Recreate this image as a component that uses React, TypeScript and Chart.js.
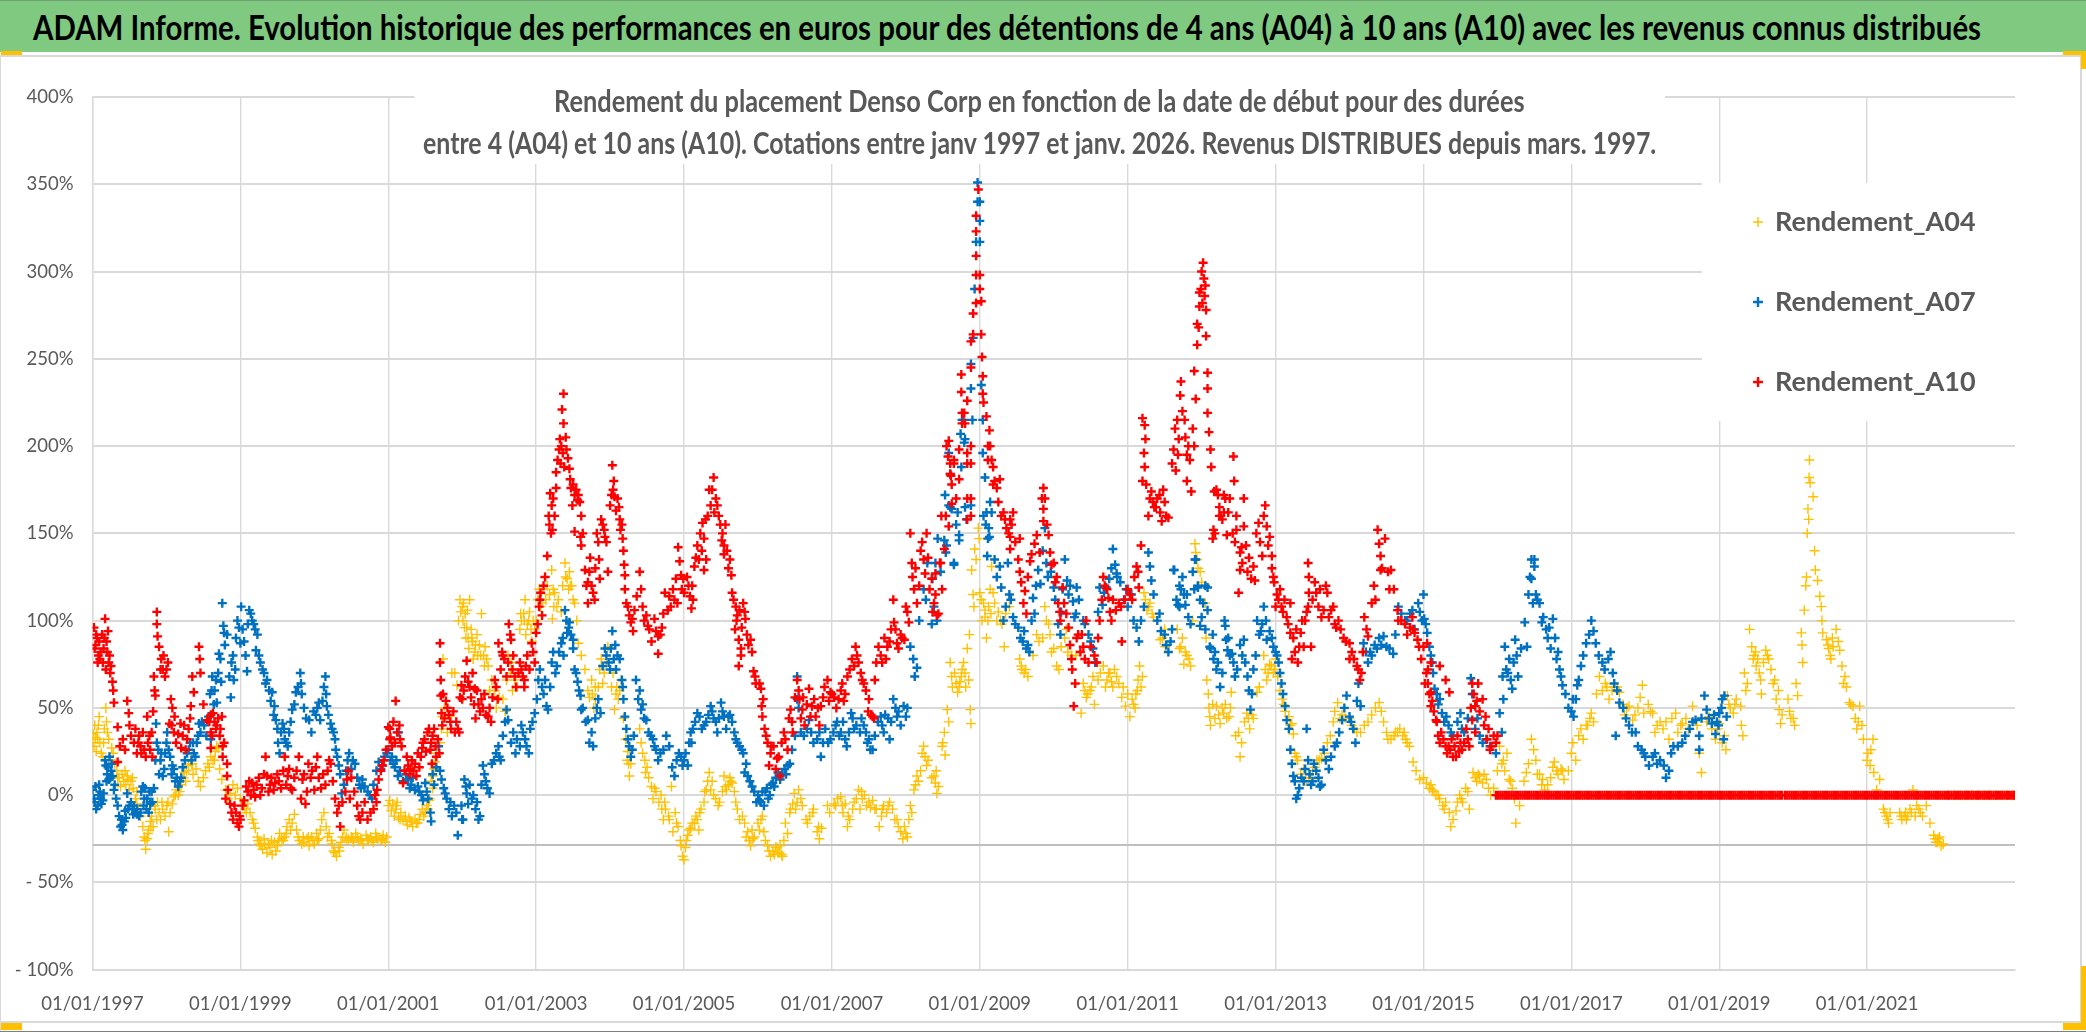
import React, { useEffect, useLayoutEffect, useRef } from "react";
import { Chart, registerables } from "chart.js";

Chart.register(...registerables);

const FONT = 'Lato, "Noto Sans", sans-serif';

const headerText = "ADAM Informe. Evolution historique des performances en euros pour des détentions de 4 ans (A04) à 10 ans (A10) avec les revenus connus distribués";
const subtitleLine1 = "Rendement du placement Denso Corp en fonction de la date de début pour des durées";
const subtitleLine2 = "entre 4 (A04) et 10 ans (A10). Cotations entre janv 1997 et janv. 2026. Revenus DISTRIBUES depuis mars. 1997.";

const firstYear = 1997;
const axisLineValue = -28.5;

// Flat lists: years since 01/01/1997, return in %, years since 01/01/1997, return in %, ...
const rendementA04 = [
0,30,.01,35,.02,28,.03,40,.04,33,.05,25,.06,36,.07,32,.09,45,.1,30,.12,24,.14,22,.16,38,.18,50,.2,36,.22,32,.24,20,.26,27,.3,18,.33,14,.36,10,.38,5,.4,12,.42,8,.45,6,.47,11,.5,3,.52,8,.55,4,.58,-2,.6,-5,.62,-8,.65,-12,.68,-18,.7,-24,.72,-31,.74,-25,.76,-20,.78,-15,.8,-12,.82,-18,.85,-8,.88,-4,.9,-10,.92,-14,.95,-8,.98,-12,
1,-6,1.03,-21,1.05,-10,1.08,-5,1.1,-1,1.13,3,1.16,0,1.2,6,1.23,10,1.27,14,1.3,17,1.33,20,1.36,12,1.4,15,1.43,8,1.46,5,1.5,10,1.53,14,1.56,18,1.6,22,1.63,20,1.66,25,1.7,27,1.72,15,1.75,9,1.8,3,1.83,-2,1.86,1,1.9,6,1.93,0,1.96,4,
2,-2,2.03,-6,2.06,-8,2.1,-5,2.13,-10,2.16,-14,2.2,-19,2.23,-24,2.26,-28,2.3,-31,2.33,-28,2.36,-33,2.4,-30,2.43,-34,2.46,-27,2.5,-29,2.53,-22,2.56,-25,2.6,-24,2.63,-18,2.66,-14,2.7,-16,2.73,-11,2.76,-20,2.8,-26,2.83,-28,2.86,-27,2.9,-25,2.93,-29,2.96,-24,
3,-28,3.03,-22,3.06,-25,3.1,-14,3.13,-10,3.16,-18,3.2,-22,3.23,-26,3.26,-32,3.3,-35,3.33,-30,3.36,-27,3.4,-20,3.43,-24,3.46,-25,3.5,-24,3.53,-27,3.56,-22,3.6,-26,3.63,-25,3.66,-28,3.7,-23,3.73,-26,3.76,-24,3.8,-27,3.83,-22,3.86,-25,3.9,-26,3.93,-23,3.96,-27,
4,-6,4.02,-3,4.04,-9,4.06,-5,4.08,-12,4.1,-8,4.12,-4,4.14,-13,4.17,-10,4.2,-14,4.23,-12,4.26,-17,4.3,-15,4.33,-18,4.36,-14,4.4,-16,4.43,-11,4.46,-8,4.5,-10,4.52,-6,4.55,-3,4.58,8,4.6,11,4.62,15,4.63,19,4.65,24,4.7,30,4.72,38,4.73,45,4.74,78,4.76,50,4.8,36,4.83,45,4.86,70,4.9,70,4.93,63,4.95,100,4.97,112,4.98,105,
5,108,5.01,100,5.02,110,5.04,104,5.06,96,5.08,90,5.1,112,5.12,95,5.14,88,5.17,82,5.2,92,5.23,86,5.26,104,5.29,80,5.31,85,5.33,78,5.35,74,5.37,60,5.4,66,5.44,60,5.46,50,5.5,56,5.55,55,5.58,48,5.62,80,5.65,70,5.68,60,5.71,66,5.74,62,5.78,95,5.8,100,5.83,104,5.85,112,5.88,98,5.91,105,5.94,88,5.96,100,5.98,95,
6.02,112,6.06,108,6.09,118,6.12,125,6.15,120,6.21,129,6.23,118,6.25,116,6.28,108,6.3,112,6.22,101,6.34,105,6.39,133,6.42,124,6.45,128,6.48,120,6.5,112,6.52,110,6.55,100,6.57,87,6.61,80,6.66,72,6.7,60,6.75,66,6.78,50,6.8,55,6.84,62,6.88,78,6.92,70,6.97,85,
7.04,70,7.06,49,7.09,62,7.11,55,7.15,66,7.18,44,7.21,32,7.24,25,7.26,11,7.28,18,7.4,38,7.42,30,7.47,20,7.48,13,7.5,16,7.56,5,7.58,-2,7.62,2,7.66,-4,7.69,0,7.72,-14,7.75,-8,7.79,-12,7.83,5,7.85,-21,7.88,-10,7.92,-18,7.96,-29,7.98,-35,
8,-37,8.02,-30,8.05,-23,8.09,-19,8.14,-16,8.18,-14,8.2,-20,8.23,-8,8.27,-4,8.3,3,8.34,13,8.36,3,8.38,8,8.43,-2,8.46,-6,8.54,11,8.57,3,8.6,6,8.63,8,8.65,7,8.7,-4,8.72,-8,8.79,-12,8.82,-16,8.86,-21,8.9,-29,8.93,-25,8.95,-24,
9.02,-20,9.06,-12,9.08,-21,9.13,-29,9.17,-35,9.2,-32,9.24,-30,9.27,-33,9.3,-29,9.33,-35,9.37,-16,9.4,-22,9.44,-8,9.49,1,9.51,-8,9.53,-4,9.55,3,9.6,-6,9.67,-16,9.7,-12,9.74,-10,9.8,-21,9.83,-25,9.86,-19,9.94,-6,9.97,-10,
10.03,-5,10.08,-2,10.12,-1,10.15,-10,10.18,-5,10.21,-18,10.24,-14,10.3,-4,10.36,3,10.38,-8,10.41,-2,10.44,0,10.52,-7,10.55,-3,10.6,-8,10.64,-18,10.67,-12,10.7,-6,10.74,-10,10.78,-4,10.82,-8,10.88,-14,10.93,-21,10.96,-25,10.98,-18,
11,-22,11.02,-24,11.06,-6,11.08,-10,11.11,3,11.15,11,11.17,8,11.24,28,11.26,22,11.28,17,11.38,11,11.4,7,11.41,14,11.42,1,11.44,5,11.49,28,11.52,36,11.53,23,11.56,49,11.58,42,11.6,76,11.63,62,11.66,70,11.7,59,11.73,65,11.76,72,11.78,76,11.81,62,11.83,84,11.85,66,11.86,92,11.87,49,11.88,41,11.89,129,11.91,115,11.92,108,11.93,141,11.95,135,11.98,153,11.99,147,
12,116,12.03,100,12.05,110,12.07,102,12.09,90,12.12,108,12.15,104,12.16,131,12.18,116,12.25,105,12.3,98,12.33,85,12.36,108,12.4,108,12.54,78,12.57,72,12.6,70,12.65,68,12.77,92,12.8,88,12.88,108,12.9,100,12.95,92,12.97,82,
13.04,74,13.1,85,13.17,95,13.19,82,13.3,80,13.37,47,13.4,64,13.44,56,13.49,60,13.53,68,13.55,52,13.67,74,13.7,62,13.74,70,13.78,65,13.82,72,13.85,68,13.94,62,13.97,51,14,58,14.03,45,
14.06,55,14.1,50,14.13,60,14.16,74,14.18,62,14.2,68,14.22,116,14.26,106,14.3,110,14.35,102,14.44,89,14.5,95,14.51,85,14.67,95,14.7,84,14.74,90,14.76,75,14.8,80,14.85,74,14.91,144,14.92,139,14.94,135,14.98,128,
15.05,110,15.06,90,15.07,66,15.09,58,15.1,50,15.11,45,15.12,40,15.2,51,15.25,41,15.3,47,15.34,44,15.39,50,15.4,59,15.5,36,15.52,22,15.54,30,15.61,47,15.65,38,15.7,44,15.75,59,15.84,80,15.88,66,15.92,75,15.97,70,15.99,72,
16,78,16.06,60,16.09,55,16.13,48,16.18,45,16.22,41,16.24,35,16.26,24,16.3,20,16.38,15,16.45,10,16.5,14,16.56,20,16.62,21,16.7,30,16.78,42,16.84,53,16.9,46,17,44,17.07,38,17.15,36,17.25,42,17.35,50,17.4,53,17.46,42,17.5,36,17.56,32,17.62,36,17.68,38,17.72,34,17.76,32,17.81,28,
17.86,19,17.9,14,17.95,9,18,10,18.04,7,18.08,4,18.12,3,18.17,0,18.22,-2,18.26,-6,18.3,-4,18.35,-10,18.37,-18,18.44,-9,18.49,0,18.53,-4,18.57,4,18.62,-8,18.67,13,18.72,8,18.76,11,18.8,7,18.85,9,18.91,0,
19.03,28,19.06,18,19.1,14,19.13,24,19.16,9,19.2,4,19.23,-2,19.25,-16,19.3,-6,19.39,13,19.46,32,19.49,26,19.52,20,19.57,12,19.61,9,19.64,3,19.72,10,19.77,19,19.82,12,19.86,15,19.9,9,19.96,14,
20.02,30,20.06,20,20.13,38,20.16,32,20.22,40,20.27,47,20.3,42,20.38,68,20.42,60,20.46,64,20.51,55,20.58,62,20.65,59,20.72,46,20.78,51,20.83,43,20.9,50,20.96,63,20.98,47,21.04,52,21.1,47,21.13,36,21.2,42,21.28,42,21.32,32,21.41,47,21.44,36,21.5,41,21.58,38,21.64,51,21.73,24,21.76,13,21.86,45,21.9,38,21.95,32,
22,41,22.04,30,22.09,26,22.11,57,22.15,50,22.19,47,22.23,55,22.29,51,22.3,40,22.32,34,22.34,70,22.36,60,22.41,95,22.44,85,22.47,80,22.5,74,22.52,78,22.54,70,22.57,58,22.6,76,22.63,83,22.67,78,22.7,72,22.75,66,22.77,55,22.8,60,22.81,49,22.83,41,22.93,55,22.97,44,23.02,40,23.04,64,23.06,57,23.11,93,23.12,86,23.13,76,23.15,106,23.18,125,23.17,120,23.19,150,23.2,164,23.21,158,23.215,182,23.23,179,23.22,192,23.27,171,23.29,140,23.3,129,23.33,123,23.36,114,23.38,108,23.39,100,23.4,93,23.45,89,23.48,84,23.51,78,23.54,85,23.58,95,23.63,83,23.66,74,23.68,64,23.72,62,23.76,53,23.81,51,23.84,44,23.86,38,23.9,51,23.93,40,23.95,32,
24.01,24,24.04,17,24.08,32,24.09,13,24.13,3,24.17,9,24.22,-8,24.26,-12,24.29,-16,24.31,-10,24.44,-10,24.47,-14,24.5,-12,24.53,-14,24.58,-8,24.62,3,24.65,-12,24.67,-6,24.72,-10,24.8,-6,24.85,-16,24.9,-23,24.93,-27,24.96,-25,25,-29,25.03,-28,
25.1,0,25.18,0,25.26,0,25.34,0,25.42,0,25.5,0,25.58,0,25.66,0,25.74,0,25.82,0,25.9,0,25.97,0,
];

const rendementA04Cloud = [
1.24,13,1.35,18,1.58,16,1.65,20,1.68,28,.08,40,.15,30,.19,42,.28,24,.34,10,.44,14,.48,9,.54,10,.6,2,.71,-26,.75,-22,.79,-18,.84,-6,.87,-14,.94,-4,1.02,-4,1.12,0,1.18,2,1.26,8,1.34,18,
2.08,-10,2.18,-16,2.24,-26,2.28,-29,2.32,-25,2.38,-28,2.42,-26,2.48,-32,2.52,-26,2.58,-26,2.62,-22,2.68,-20,2.78,-24,2.85,-24,2.92,-24,2.98,-26,3.04,-26,3.08,-20,3.18,-24,3.24,-28,3.28,-33,3.34,-32,3.38,-24,3.44,-26,3.52,-25,3.58,-24,3.64,-26,3.72,-25,3.78,-26,3.84,-24,3.92,-25,3.98,-24,
4.11,-6,4.16,-14,4.24,-15,4.28,-13,4.32,-15,4.38,-16,4.42,-14,4.48,-12,4.54,-8,4.56,-2,4.6,4,5.03,96,5.05,90,5.07,106,5.09,84,5.13,90,5.15,78,5.18,86,5.21,80,5.25,80,5.3,74,5.6,66,5.66,76,5.79,104,5.84,100,5.86,92,5.9,100,5.93,95,6,100,6.04,118,6.08,110,6.13,112,6.18,115,6.24,108,6.36,120,6.4,125,6.44,118,6.46,120,6.72,56,6.76,58,6.8,62,6.86,72,6.9,64,6.95,76,7.02,62,7.08,58,7.13,60,7.23,20,7.25,18,7.44,24,7.52,10,7.6,4,7.7,-8,7.74,-4,7.8,-14,7.9,-16,7.95,-26,
8.03,-26,8.07,-20,8.11,-16,8.16,-12,8.21,-10,8.28,2,8.32,8,8.4,0,8.48,-4,8.52,2,8.56,5,8.62,10,8.68,2,8.75,-14,8.84,-24,8.88,-26,8.92,-20,9,-16,9.04,-14,9.1,-26,9.15,-32,9.22,-34,9.26,-30,9.29,-33,9.32,-34,9.35,-26,9.43,-10,9.47,-5,9.58,-2,9.65,-14,9.75,-8,9.82,-18,10.05,-6,10.14,-6,10.22,-12,10.28,-8,10.33,-2,10.4,2,10.47,-6,10.5,-4,10.58,-8,10.68,-8,10.76,-6,10.85,-14,10.9,-18,11.04,-14,11.13,6,11.2,14,11.22,24,11.3,20,11.35,10,11.5,30,11.62,68,11.68,64,11.72,62,11.75,68,11.8,70,
12.02,112,12.07,106,12.11,100,12.14,118,12.2,110,12.23,100,12.28,100,12.35,104,12.56,74,12.62,72,12.72,80,12.85,90,12.93,98,13,84,13.07,72,13.15,90,13.24,80,13.42,60,13.46,58,13.51,62,13.6,66,13.63,70,13.72,66,13.76,70,13.8,62,13.88,64,13.92,56,14.08,52,14.11,58,14.14,66,14.24,112,14.28,108,14.33,104,14.47,90,14.72,85,14.78,82,14.83,78,14.88,100,14.95,130,15,122,15.15,52,15.18,44,15.23,46,15.28,50,15.32,52,15.37,45,15.46,34,15.58,42,15.63,44,15.68,46,15.78,62,15.86,72,15.9,70,15.94,74,
16.03,68,16.11,52,16.2,40,16.28,22,16.34,12,16.41,8,16.48,10,16.53,16,16.59,20,16.66,24,16.74,34,16.8,48,16.87,44,16.94,44,17.03,40,17.1,36,17.2,40,17.3,46,17.43,48,17.52,32,17.6,34,17.65,36,17.74,36,17.78,30,18.1,6,18.14,2,18.2,0,18.28,-8,18.4,-14,18.46,-4,18.51,-2,18.6,2,18.7,10,18.74,12,18.82,12,18.88,4,18.95,4,19,14,19.08,20,19.18,8,19.36,8,19.42,18,19.54,12,19.6,6,19.68,6,19.75,16,19.8,14,19.88,14,20,24,20.1,34,20.2,40,20.25,44,20.34,58,20.48,62,20.55,60,20.62,62,20.7,52,20.75,50,20.86,46,20.93,56,21.07,48,21.16,40,21.24,38,21.36,44,21.48,40,21.55,44,21.7,40,21.83,42,21.98,38,22.07,34,22.13,52,22.21,52,22.38,64,22.46,78,22.49,82,22.56,66,22.65,80,22.73,64,22.85,46,22.95,48,23,44,23.47,86,23.5,80,23.53,90,23.61,88,23.7,68,23.78,52,23.88,42,24,20,24.05,26,24.24,-10,24.28,-14,24.46,-12,24.52,-10,24.55,-12,24.6,-10,24.7,-8,24.75,-12,24.92,-25,24.95,-27,24.98,-24,
];

const rendementA07 = [
0,3,.03,-4,.05,-8,.08,0,.1,2,.12,-5,.14,-3,.18,17,.2,12,.22,9,.23,22,.25,14,.27,11,.29,3,.34,-6,.36,-12,.38,-18,.41,-20,.43,-15,.45,-13,.47,1,.5,-6,.54,-8,.58,-10,.6,-11,.63,-12,.68,5,.7,-2,.73,-8,.76,-10,.8,2,.83,4,.86,41,.87,30,.92,20,.95,11,.97,15,1.01,36,1.03,26,1.08,17,1.12,8,1.16,5,1.2,10,1.3,26,1.34,20,1.37,24,1.41,30,1.44,41,1.46,36,1.57,45,1.6,32,1.62,68,1.65,60,1.68,53,1.71,81,1.74,65,1.755,110,1.77,97,1.78,93,1.85,68,1.87,56,1.9,80,1.93,72,1.96,100,
2,87,2.01,108,2.07,80,2.09,71,2.12,106,2.16,100,2.2,95,2.21,83,2.25,80,2.3,72,2.34,64,2.39,60,2.43,59,2.46,51,2.48,43,2.5,38,2.53,24,2.57,41,2.6,32,2.64,28,2.7,49,2.75,59,2.81,70,2.82,64,2.93,43,2.96,36,
3.06,53,3.08,43,3.15,68,3.16,58,3.17,51,3.22,41,3.26,36,3.29,26,3.33,17,3.37,1,3.47,24,3.5,15,3.65,9,3.72,2,3.78,-2,3.87,19,3.9,15,4,26,4.03,20,
4.05,22,4.09,16,4.13,11,4.14,36,4.27,9,4.31,6,4.36,3,4.45,0,4.5,7,4.54,-2,4.57,-10,4.58,-15,4.68,28,4.72,9,4.77,1,4.82,-8,4.86,-12,4.92,-10,4.94,-23,5.01,-14,5.03,9,5.06,1,5.13,-2,5.18,-8,5.22,-14,5.28,17,5.32,8,5.37,1,5.49,28,5.52,20,5.55,34,5.6,49,5.62,43,5.69,36,5.72,24,5.8,40,5.85,32,5.9,24,
5.98,47,6.05,72,6.08,62,6.14,51,6.16,49,6.23,82,6.26,70,6.34,87,6.37,80,6.39,106,6.42,93,6.45,99,6.5,89,6.5,84,6.52,72,6.56,65,6.6,57,6.61,49,6.7,43,6.75,36,6.77,28,6.84,55,6.87,47,6.93,84,7,72,7.03,94,7.05,78,7.1,80,
7.17,62,7.18,55,7.2,45,7.24,32,7.28,22,7.35,66,7.38,55,7.42,49,7.49,43,7.58,32,7.65,20,7.76,34,7.8,28,7.87,11,7.96,22,7.98,17,
8.02,24,8.05,17,8.09,36,8.1,30,8.18,47,8.24,38,8.3,42,8.36,51,8.4,44,8.45,36,8.5,53,8.54,45,8.6,45,8.65,42,8.68,36,8.72,30,8.8,24,8.82,13,8.86,11,8.92,5,9,0,9.04,-4,9.08,-6,9.1,2,9.14,-2,9.2,7,9.22,5,9.27,13,9.3,9,9.36,15,9.4,17,9.46,26,9.53,55,9.53,68,9.62,34,9.69,43,9.8,32,9.85,22,9.91,38,9.95,30,
10.07,42,10.1,34,10.2,28,10.26,47,10.3,38,10.43,40,10.5,32,10.52,26,10.66,45,10.7,36,10.78,32,10.83,55,10.88,45,10.97,51,11,45,
11.06,85,11.1,78,11.12,68,11.15,73,11.18,100,11.24,118,11.27,112,11.29,133,11.36,124,11.38,108,11.42,100,11.47,128,11.52,146,11.54,139,11.6,184,11.6,165,11.65,132,11.7,162,11.72,146,11.74,207,11.76,215,11.79,202,11.8,165,11.82,158,
11.4,133,11.35,98,11.43,147,11.55,143,11.65,133,11.53,172,11.58,166,11.62,164,11.68,155,11.72,149,11.58,196,11.75,188,11.78,215,11.8,204,11.88,247,11.88,233,11.88,166,11.9,215,11.91,262,11.93,290,11.95,317,11.97,351,11.97,340,12,340,12,329,12,317,12.02,235,12.04,215,12.04,196,12.07,182,12.09,162,12.12,153,12.16,162,12.11,147,12.1,137,
12.27,131,12.29,119,12.32,100,12.38,133,12.4,115,12.45,102,12.52,96,12.58,88,12.63,84,12.67,82,12.72,113,12.74,104,12.79,129,12.82,121,12.88,153,12.9,133,13,119,13.06,98,13.09,92,13.15,135,13.18,123,13.26,111,13.3,104,13.31,119,13.4,100,13.47,92,13.53,84,13.56,76,13.62,119,13.66,109,13.71,119,13.8,141,13.85,127,13.86,125,13.95,112,14.05,115,14.12,96,14.15,88,14.28,139,14.3,131,14.32,123,14.35,115,14.43,104,14.5,92,14.55,82,14.6,95,14.63,129,14.68,109,14.7,120,14.74,125,14.78,109,14.85,98,14.92,135,14.95,119,15,102,15.05,95,15.08,119,15.12,84,
14.62,129,14.7,108,14.8,115,14.91,135,14.95,120,14.98,97,15.05,120,15.08,106,15.11,85,15.16,78,15.2,72,15.25,62,15.31,100,15.32,97,15.33,89,15.35,83,15.41,81,15.45,68,15.57,89,15.59,76,15.64,60,15.66,49,15.7,72,15.75,100,15.8,94,15.84,108,15.88,89,15.92,94,15.97,85,16.04,76,16.08,64,16.13,51,16.15,43,16.18,38,16.2,26,16.24,11,16.28,-2,16.32,4,16.38,8,16.42,38,16.44,20,16.48,6,16.55,14,16.6,5,16.65,26,16.72,15,16.83,30,16.9,43,16.96,57,17,45,17.05,38,17.08,30,17.12,64,17.15,51,
17.19,87,17.25,76,17.3,80,17.37,84,17.46,91,17.5,85,17.59,81,17.66,108,17.75,100,17.82,104,17.88,95,17.93,110,17.98,100,18,115,18.01,101,18.05,93,18.08,85,18.1,80,18.13,70,18.15,61,18.22,55,18.25,47,18.31,45,18.37,36,18.5,47,18.52,38,18.64,67,18.66,58,18.73,44,18.76,34,18.85,32,18.98,24,
19.03,47,19.06,36,19.08,55,19.1,85,19.07,68,19.16,78,19.2,61,19.24,89,19.26,80,19.37,99,19.4,85,19.46,135,19.5,131,19.5,135,19.46,124,19.48,110,19.57,110,19.6,99,19.66,95,19.72,84,19.75,101,19.82,82,19.84,72,19.88,63,20.02,55,20.03,45,20.08,63,20.13,74,20.2,87,20.27,100,20.33,87,20.42,76,20.53,82,20.56,70,20.58,64,20.65,53,20.74,44,20.6,34,20.87,36,20.9,28,21,22,21.05,17,21.13,24,21.25,17,21.28,10,21.38,28,21.54,34,21.68,43,21.73,34,21.73,26,21.8,57,21.83,49,21.9,41,21.95,35,22,47,22.04,55,22.07,57,22.1,45,22.06,32,21.99,40,
];

const rendementA07Cloud = [
.02,-2,.04,5,.07,-6,.09,6,.11,-2,.15,1,.17,20,.19,8,.21,16,.24,10,.26,18,.3,6,.32,-2,.39,-14,.4,-17,.44,-9,.48,-8,.52,-4,.55,-11,.56,-6,.6,-8,.65,-10,.66,2,.69,-6,.71,4,.74,-2,.77,2,.78,-5,.81,-4,.85,20,.89,26,.9,12,.93,24,.98,24,1,30,1.05,22,1.07,12,1.1,15,1.14,10,1.18,8,1.22,16,1.25,20,1.28,24,1.32,30,1.36,30,1.39,22,1.43,34,1.48,42,1.51,40,1.54,34,1.59,58,1.61,60,1.64,52,1.67,66,1.7,70,1.73,78,1.79,86,1.82,92,1.88,76,1.91,66,1.94,90,1.98,96,
2.03,95,2.05,88,2.1,98,2.14,104,2.18,98,2.23,92,2.27,76,2.32,70,2.36,66,2.41,54,2.45,46,2.51,30,2.55,36,2.59,38,2.62,30,2.66,36,2.68,42,2.73,52,2.78,62,2.83,58,2.86,50,2.89,44,2.99,48,3.02,46,3.04,50,3.11,54,3.13,62,3.19,46,3.24,38,3.28,32,3.31,22,3.35,12,3.4,6,3.43,14,3.45,20,3.52,20,3.55,18,3.58,10,3.61,6,3.63,4,3.68,5,3.75,0,3.8,6,3.84,14,3.92,17,3.95,22,3.98,24,
4.07,18,4.11,20,4.16,14,4.2,8,4.24,12,4.29,4,4.33,10,4.4,5,4.42,2,4.47,-3,4.52,2,4.6,12,4.62,6,4.65,16,4.7,14,4.75,4,4.79,-2,4.84,-4,4.89,-6,4.99,-6,5,-14,5.05,5,5.08,-5,5.1,6,5.15,0,5.2,-4,5.24,-12,5.26,6,5.3,12,5.34,4,5.4,18,5.43,20,5.46,24,5.5,22,5.58,42,5.66,30,5.74,32,5.78,28,5.82,36,5.87,28,5.92,38,5.95,42,6.01,55,6.03,66,6.1,58,6.12,66,6.19,62,6.21,76,6.28,74,6.31,82,6.36,90,6.41,100,6.44,96,6.47,92,6.54,70,6.58,60,6.63,50,6.67,42,6.72,30,6.8,44,6.82,50,6.9,74,6.95,80,6.98,76,7.01,84,7.07,86,7.08,72,7.13,78,7.16,66,
7.22,38,7.26,28,7.3,26,7.32,34,7.4,60,7.44,52,7.46,44,7.52,36,7.55,34,7.6,28,7.62,26,7.68,24,7.72,26,7.84,16,7.9,20,7.93,24,8,20,8.07,30,8.12,38,8.15,42,8.21,45,8.27,40,8.33,46,8.38,48,8.43,42,8.47,44,8.52,48,8.57,38,8.62,46,8.7,32,8.75,28,8.78,26,8.84,18,8.89,8,8.95,2,8.98,-4,9.02,-3,9.06,2,9.12,4,9.16,0,9.18,6,9.24,10,9.33,12,9.38,12,9.43,18,9.5,34,9.55,50,9.58,36,9.66,38,9.72,36,9.75,30,9.83,36,9.88,30,9.98,32,
10.02,36,10.05,40,10.12,36,10.15,42,10.18,32,10.23,36,10.28,44,10.33,40,10.38,36,10.4,44,10.46,36,10.48,30,10.55,26,10.58,34,10.62,42,10.68,40,10.72,46,10.76,44,10.8,42,10.86,50,10.9,48,10.93,40,11.02,50,
12.05,160,12.08,155,12.13,148,12.14,168,12.2,135,12.23,125,12.35,108,12.42,112,12.48,98,12.55,90,12.6,94,12.65,86,12.7,100,12.76,120,12.85,140,12.92,125,12.96,128,13.02,112,13.1,105,13.12,118,13.2,115,13.22,120,13.28,102,13.34,112,13.42,98,13.5,88,13.6,105,13.68,116,13.75,124,13.78,130,13.83,132,13.9,122,13.98,118,14,108,14.08,100,14.18,100,14.22,108,14.4,100,14.45,94,14.52,86,14.58,88,14.66,112,14.72,118,14.76,115,14.82,102,14.88,128,14.9,118,14.98,112,15.02,110,
15.15,92,15.18,82,15.22,76,15.28,70,15.36,90,15.38,80,15.43,76,15.48,72,15.52,86,15.55,80,15.62,68,15.68,58,15.73,80,15.78,92,15.82,98,15.87,100,15.95,90,16,82,16.02,80,16.06,70,16.1,58,16.22,18,16.26,8,16.3,0,16.35,10,16.4,15,16.46,12,16.5,8,16.52,18,16.58,10,16.62,6,16.68,20,16.75,22,16.8,28,16.86,36,16.93,50,17.02,42,17.1,54,
17.22,82,17.28,82,17.34,86,17.4,90,17.43,86,17.54,84,17.62,92,17.7,104,17.78,100,17.85,106,17.95,105,18.03,98,18.12,76,18.18,58,18.2,52,18.28,42,18.34,40,18.4,34,18.46,42,18.55,36,18.6,44,18.7,38,18.8,30,18.9,28,
19.12,72,19.14,70,19.18,66,19.22,76,19.28,68,19.32,84,19.42,115,19.44,125,19.52,115,19.54,112,19.62,102,19.68,90,19.7,96,19.78,90,19.8,78,19.86,68,19.92,58,19.96,50,20,48,20.06,55,20.1,66,20.16,80,20.24,92,20.3,94,20.37,80,20.45,72,20.5,78,20.62,60,20.7,50,20.78,40,20.82,36,20.95,26,20.98,24,21.1,22,21.16,18,21.2,20,21.32,14,21.35,24,21.44,28,21.5,30,21.6,38,21.64,42,21.76,44,21.86,44,21.93,46,21.97,42,22.03,50,
];

const rendementA10 = [
.02,96,.04,86,.06,90,.08,80,.1,78,.13,92,.15,84,.17,101,.19,88,.21,94,.23,80,.25,74,.27,65,.28,60,.29,53,.34,39,.34,19,.37,28,.41,32,.44,26,.47,54,.49,47,.5,40,.52,34,.58,38,.62,30,.66,24,.7,26,.74,45,.77,34,.81,22,.82,48,.83,68,.85,57,.87,105,.87,98,.88,91,.9,85,.93,78,.95,72,.98,68,1.02,76,
1.04,41,1.06,55,1.08,50,1.11,45,1.19,41,1.22,34,1.26,26,1.3,38,1.33,51,1.35,68,1.37,59,1.44,85,1.45,78,1.46,70,1.5,52,1.55,43,1.6,36,1.6,27,1.63,47,1.68,40,1.72,34,1.76,28,1.76,22,1.82,18,1.82,11,1.83,3,1.8,-2,1.94,-10,1.98,-18,
2.03,-6,2,-14,2.1,2,2.16,7,2.2,-1,2.27,0,2.34,22,2.36,11,2.4,6,2.45,3,2.52,8,2.6,22,2.64,11,2.68,4,2.79,22,2.84,9,2.88,-5,2.95,10,3.04,22,3.09,4,3.2,20,3.25,8,3.31,-10,3.35,-18,3.44,9,3.48,-2,3.62,-14,3.76,-10,3.84,-4,3.87,9,3.94,20,4,39,4.02,32,
4.02,38,4.05,28,4.1,54,4.15,40,4.18,28,4.2,7,4.25,22,4.3,15,4.38,11,4.47,30,4.55,38,4.58,30,4.65,22,4.59,18,4.7,87,4.7,76,4.71,66,4.71,57,4.72,47,4.73,40,4.8,50,4.85,38,4.92,42,4.96,36,4.99,63,5,55,5.06,77,5.08,65,5.17,61,5.18,44,5.26,55,5.35,45,5.44,66,5.48,55,5.49,87,5.55,80,5.6,68,5.63,98,5.66,89,5.69,80,5.78,76,5.84,66,5.73,62,5.84,62,
5.94,87,5.98,76,6,93,6.05,112,6.08,103,6.12,125,6.15,137,6.21,166,6.22,152,6.19,173,6.27,176,6.32,204,6.33,190,6.35,221,6.37,230,6.37,213,6.4,205,6.43,193,6.45,187,6.27,185,6.46,181,6.52,172,6.56,169,6.59,168,6.61,160,6.52,151,6.6,148,6.61,143,6.66,129,6.68,120,6.7,110,6.73,136,6.77,116,6.79,112,6.84,145,6.86,124,6.88,158,6.92,152,6.95,145,7.03,189,7.05,180,7.04,175,7.06,171,7,166,7.12,165,7.14,152,7.17,147,7.18,140,7.2,126,7.2,118,7.24,108,7.3,101,7.31,94,7.4,128,7.42,118,7.49,103,7.51,97,7.6,101,7.65,91,7.7,96,7.65,81,7.74,116,7.78,106,7.85,118,7.91,110,7.92,142,7.96,126,7.99,124,8,116,
8.04,125,8.08,114,8.1,107,8.11,120,8.14,131,8.18,143,8.2,135,8.25,156,8.27,147,8.27,129,8.3,135,8.32,160,8.34,175,8.36,166,8.4,182,8.43,170,8.47,160,8.52,150,8.56,155,8.54,143,8.54,138,8.62,135,8.64,126,8.65,116,8.7,108,8.72,103,8.8,110,8.83,101,8.69,95,8.74,89,8.77,84,8.77,80,8.74,74,8.9,89,8.92,82,8.94,71,8.97,64,
9.04,61,9.05,51,9.06,45,9.09,38,9.13,30,9.15,17,9.18,28,9.26,21,9.3,11,9.35,36,9.4,26,9.44,49,9.47,36,9.53,66,9.56,55,9.6,49,9.63,40,9.69,61,9.73,51,9.78,45,9.83,40,9.85,51,9.94,66,9.98,59,
10.03,56,10.06,50,10.12,60,10.16,54,10.21,68,10.32,85,10.36,76,10.39,70,10.43,64,10.5,55,10.55,45,10.57,44,10.58,66,10.63,85,10.68,76,10.75,85,10.83,112,10.84,99,10.88,87,10.93,92,10.98,89,11,108,11.04,99,11.06,150,11.08,133,11.11,118,11.09,125,11.15,110,11.22,145,11.26,127,11.28,150,11.35,124,11.38,110,11.42,103,11.47,133,11.49,118,
11.54,160,11.58,154,11.58,203,11.6,190,11.61,183,11.62,167,11.72,198,11.72,181,11.65,190,11.83,196,11.83,190,11.83,170,11.83,158,11.76,219,11.76,213,11.83,226,
11.4,127,11.44,104,11.46,133,11.48,160,11.52,141,11.55,200,11.57,194,11.6,184,11.62,178,11.68,170,11.88,170,11.88,160,11.65,192,11.75,241,11.75,231,11.88,245,11.79,219,11.8,213,11.88,200,11.88,190,11.88,260,11.91,276,11.91,264,11.95,282,11.95,309,11.95,298,11.95,323,11.95,332,11.98,347,12,298,12,290,12.02,283,12.02,264,12.03,251,12.04,240,12.04,230,12.05,225,12.09,217,12.13,209,12.11,200,12.11,192,12.18,188,12.18,178,12.27,181,12.25,168,12.32,162,12.36,153,12.41,158,12.45,162,12.41,141,12.41,148,12.54,147,12.52,135,12.54,128,
12.61,117,12.63,104,12.68,134,12.77,149,12.81,139,12.86,176,12.86,164,12.86,157,12.93,149,12.95,139,13,133,13.02,122,13.06,110,13.09,100,13.12,119,13.17,104,13.2,96,13.25,72,13.27,51,13.33,92,13.4,85,13.47,76,13.44,100,13.58,76,13.62,100,13.67,125,13.74,113,13.78,100,13.91,108,13.92,88,14.03,115,14.12,131,14.15,119,14.18,143,
14.2,216,14.23,212,14.24,204,14.22,196,14.23,188,14.2,180,14.25,178,14.3,170,14.38,165,14.43,172,14.46,157,14.5,168,14.55,159,14.62,198,14.65,186,14.67,215,14.69,204,14.72,237,14.71,229,14.77,215,14.82,200,14.84,192,14.86,174,14.8,180,14.9,243,14.92,227,14.94,270,14.94,258,14.97,288,14.97,280,15,300,15.02,305,15.05,292,15.06,278,15.06,263,15.08,242,15.08,233,15.08,219,15.1,208,15.12,198,15.13,188,15.17,174,15.24,160,15.3,172,15.15,147,15.16,152,
15.2,175,15.24,165,15.28,158,15.32,170,15.18,150,15.34,149,15.43,194,15.44,180,15.57,170,15.47,160,15.47,152,15.5,116,15.52,139,15.52,129,15.57,154,15.6,143,15.64,136,15.7,131,15.72,123,15.77,156,15.86,166,15.88,154,15.9,143,15.82,137,15.95,137,15.95,130,15.98,122,16,108,16.06,118,16.08,108,16.15,102,16.2,110,16.2,93,16.22,78,16.3,76,16.34,93,16.38,85,16.44,133,16.45,125,16.45,116,16.44,108,16.4,100,16.48,85,16.55,116,16.62,102,16.7,116,16.75,106,16.8,98,16.88,95,17,87,17,78,17.1,74,17.14,66,17.18,82,17.2,102,17.25,91,17.33,120,17.35,112,17.38,152,17.42,137,17.42,129,17.4,144,17.48,147,17.56,129,17.6,118,17.65,106,17.66,100,17.85,102,17.88,93,18.05,87,18.1,76,18.22,74,18.3,66,18.35,59,
18,85,18.04,70,18.06,64,17.97,78,17.92,89,17.86,95,18.02,64,18.08,58,18.1,59,18.1,51,18.17,43,18.2,34,18.27,32,18.34,28,18.4,22,18.48,25,18.55,30,18.62,28,18.66,43,18.7,36,18.66,64,18.7,51,18.74,64,18.8,55,18.84,45,18.88,38,18.9,26,19,34,
];

const rendementA10Cloud = [
.03,84,.05,92,.07,76,.09,88,.11,82,.14,76,.16,90,.18,72,.2,82,.22,76,.24,70,.56,30,.6,24,.63,34,.65,28,.68,36,.72,22,.75,30,.78,26,.8,36,.84,60,.92,72,.96,80,1,72,1.07,40,1.1,36,1.13,30,1.16,35,1.2,27,1.24,40,1.28,32,1.32,44,1.58,42,1.6,46,1.62,34,1.65,42,1.67,38,1.7,44,1.73,38,1.75,45,1.78,30,1.86,-5,1.88,-10,1.9,-14,1.92,-6,1.96,-16,1.99,-12,2.05,-3,2.08,5,2.12,8,2.14,0,2.18,3,2.22,6,2.25,10,2.29,4,2.32,12,2.38,2,2.42,10,2.47,7,2.5,12,2.55,4,2.58,14,2.62,6,2.66,15,2.7,3,2.73,10,2.76,14,2.82,-2,2.86,12,2.9,2,2.92,18,2.97,14,3,3,3.02,16,3.06,10,3.12,12,3.15,6,3.18,14,3.22,18,3.28,-2,3.33,-6,3.38,-4,3.42,2,3.46,14,3.5,10,3.54,2,3.58,-6,3.6,-12,3.65,-10,3.68,-4,3.72,-14,3.8,-8,3.82,0,3.85,3,3.9,14,3.92,17,3.97,26,
4.03,33,4.07,42,4.09,30,4.12,36,4.16,32,4.22,14,4.27,17,4.29,12,4.32,20,4.34,14,4.36,18,4.4,24,4.42,16,4.44,22,4.46,27,4.49,32,4.51,25,4.53,36,4.57,26,4.6,34,4.62,38,4.64,28,4.67,32,4.69,24,4.74,58,4.76,44,4.78,54,4.82,46,4.84,42,4.88,48,4.9,36,4.94,38,4.97,56,5.02,60,5.04,68,5.1,62,5.12,56,5.14,70,5.16,52,5.2,60,5.22,52,5.24,48,5.28,50,5.3,58,5.32,46,5.37,50,5.39,42,5.41,56,5.46,62,5.52,72,5.54,82,5.57,78,5.62,76,5.65,92,5.68,72,5.71,68,5.76,70,5.8,72,5.82,68,5.86,74,5.88,80,5.91,72,5.96,82,6.02,98,6.04,108,6.06,116,6.1,120,6.17,160,6.18,155,6.2,150,6.23,170,6.25,160,6.29,192,6.31,198,6.34,200,6.36,196,6.38,188,6.41,198,6.47,176,6.49,166,6.5,178,6.54,175,6.57,172,6.63,150,6.7,122,6.72,128,6.75,120,6.8,130,6.82,150,6.85,135,6.9,155,6.93,148,6.97,128,7.02,172,7.08,163,7.1,170,7.13,158,7.16,155,7.19,132,7.22,110,7.26,103,7.28,99,7.33,106,7.36,114,7.44,108,7.46,100,7.53,95,7.56,88,7.62,94,7.68,92,7.72,104,7.8,114,7.82,108,7.87,112,7.89,124,7.94,134,7.97,118,
8.06,120,8.12,112,8.16,136,8.22,150,8.24,140,8.29,158,8.38,175,8.41,162,8.45,166,8.49,155,8.51,146,8.58,140,8.6,130,8.67,112,8.71,100,8.75,106,8.78,96,8.82,105,8.85,92,8.87,86,8.96,68,9.02,64,9.07,55,9.11,34,9.17,24,9.21,28,9.24,15,9.28,22,9.32,30,9.37,32,9.42,44,9.46,42,9.5,56,9.55,60,9.58,44,9.61,56,9.66,52,9.71,45,9.76,55,9.81,50,9.88,56,9.9,62,9.96,54,10,58,10.09,55,10.14,64,10.18,58,10.24,72,10.27,78,10.3,74,10.34,80,10.41,66,10.46,60,10.49,48,10.53,46,10.6,76,10.66,80,10.71,90,10.73,78,10.78,88,10.8,95,10.86,95,10.9,84,10.95,90,11.02,105,11.13,130,11.18,120,11.2,140,11.24,135,11.3,136,11.32,118,11.36,105,11.4,115,
12.14,200,12.16,192,12.2,180,12.23,176,12.29,160,12.34,158,12.39,150,12.43,155,12.48,145,12.56,122,12.59,110,12.65,125,12.7,138,12.74,144,12.84,170,12.88,170,12.91,155,12.97,132,13.04,125,13.08,105,13.14,110,13.22,86,13.24,78,13.29,64,13.31,90,13.36,82,13.38,92,13.42,78,13.5,85,13.55,80,13.6,90,13.65,112,13.69,120,13.72,118,13.76,105,13.8,112,13.84,106,13.88,110,13.96,112,14,118,14.06,112,14.09,125,14.14,128,
14.28,160,14.32,174,14.34,168,14.36,165,14.4,170,14.44,162,14.48,175,14.52,160,14.6,190,14.64,210,14.68,195,14.74,220,14.78,205,14.8,195,14.88,210,14.9,200,14.96,268,14.99,290,15.01,282,15.03,296,15.04,286,
15.22,172,15.26,160,15.3,162,15.36,162,15.38,170,15.42,150,15.45,145,15.54,142,15.55,133,15.62,128,15.67,124,15.74,150,15.79,145,15.84,160,15.92,148,15.97,125,16.02,115,16.04,112,16.1,105,16.12,112,16.17,98,16.24,90,16.26,82,16.28,95,16.32,85,16.36,100,16.42,105,16.5,112,16.53,122,16.58,108,16.6,118,16.65,106,16.68,120,16.72,102,16.78,108,16.82,96,16.85,100,16.92,90,16.95,88,17.03,82,17.06,78,17.12,72,17.16,70,17.23,95,17.3,110,17.44,130,17.52,128,17.54,118,17.7,100,17.75,98,17.78,92,17.82,96,17.94,85,
18.06,72,18.12,54,18.14,48,18.18,42,18.22,30,18.24,36,18.3,28,18.32,24,18.36,26,18.38,32,18.42,28,18.44,22,18.46,34,18.5,30,18.52,26,18.58,38,18.6,32,18.64,50,18.68,58,18.72,54,18.76,48,18.82,40,18.86,32,18.92,28,18.95,34,18.98,30,
];

const rendementA10ZeroDates = [
18.98,19.01,19.04,19.07,19.1,19.13,19.16,19.19,19.22,19.25,19.28,19.31,19.34,19.37,19.4,19.43,19.46,19.49,19.52,19.55,19.58,19.61,19.64,19.67,19.7,19.73,19.76,19.79,19.82,19.85,19.88,19.91,19.94,19.97,
20,20.03,20.06,20.09,20.12,20.15,20.18,20.21,20.24,20.27,20.3,20.33,20.36,20.39,20.42,20.45,20.48,20.51,20.54,20.57,20.6,20.63,20.66,20.69,20.72,20.75,20.78,20.81,20.84,20.87,20.9,20.93,20.96,20.99,
21.02,21.05,21.08,21.11,21.14,21.17,21.2,21.23,21.26,21.29,21.32,21.35,21.38,21.41,21.44,21.47,21.5,21.53,21.56,21.59,21.62,21.65,21.68,21.71,21.74,21.77,21.8,21.83,21.86,21.89,21.92,21.95,21.98,
22.01,22.04,22.07,22.1,22.13,22.16,22.19,22.22,22.25,22.28,22.31,22.34,22.37,22.4,22.43,22.46,22.49,22.52,22.55,22.58,22.61,22.64,22.67,22.7,22.73,22.76,22.79,22.82,22.85,22.89,22.92,22.95,22.98,
23.01,23.04,23.07,23.1,23.13,23.16,23.19,23.22,23.25,23.28,23.31,23.34,23.37,23.4,23.43,23.46,23.49,23.52,23.55,23.58,23.61,23.64,23.67,23.7,23.73,23.76,23.79,23.82,23.85,23.88,23.91,23.94,23.97,
24,24.03,24.06,24.09,24.12,24.15,24.18,24.21,24.24,24.27,24.3,24.33,24.36,24.39,24.42,24.45,24.48,24.51,24.54,24.57,24.6,24.63,24.66,24.69,24.72,24.75,24.78,24.81,24.84,24.87,24.9,24.93,24.96,24.99,
25.02,25.05,25.08,25.11,25.14,25.17,25.2,25.23,25.26,25.29,25.32,25.35,25.38,25.41,25.44,25.47,25.5,25.53,25.56,25.59,25.62,25.65,25.68,25.71,25.74,25.77,25.8,25.83,25.86,25.89,25.92,25.95,25.98,26,
];

const toPoints = (flat: number[]) => {
  const out: { x: number; y: number }[] = [];
  for (let i = 0; i + 1 < flat.length; i += 2) out.push({ x: flat[i], y: flat[i + 1] });
  return out;
};

function FitText({ text, left, centerY, width, fontSize, color }: any) {
  const ref = useRef<HTMLDivElement>(null);
  useLayoutEffect(() => {
    const el = ref.current;
    if (el) {
      el.style.transform = "none";
      el.style.transform = `translateY(-50%) scaleX(${width / el.offsetWidth})`;
    }
  }, [text, width]);
  return (
    <div
      ref={ref}
      style={{
        position: "absolute",
        left,
        top: centerY,
        whiteSpace: "nowrap",
        fontFamily: FONT,
        fontWeight: 700,
        fontSize,
        lineHeight: 1,
        color,
        transformOrigin: "left center",
      }}
    >
      {text}
    </div>
  );
}

const box = (left: number, top: number, width: number, height: number, background: string): React.CSSProperties => ({
  position: "absolute",
  left,
  top,
  width,
  height,
  background,
});

export default function App() {
  const canvasRef = useRef<HTMLCanvasElement>(null);

  useEffect(() => {
    document.body.style.margin = "0";
    document.body.style.background = "#fff";
    const backdrop = {
      id: "backdrop",
      afterLayout(chart: any) {
        const lg = chart.legend;
        lg.left = 1701.5;
        lg.top = 155.5;
        lg.right = 2015;
        lg.bottom = 700;
        lg.width = lg.right - lg.left;
        lg.height = lg.bottom - lg.top;
      },
      beforeDatasetsDraw(chart: any) {
        const c = chart.ctx;
        c.save();
        c.fillStyle = "#fff";
        c.fillRect(414.5, 60, 1250.5, 104);
        c.fillRect(1702, 183, 316, 238);
        c.restore();
        chart.legend.draw();
      },
    };
    const chart = new Chart(canvasRef.current as HTMLCanvasElement, {
      type: "scatter",
      plugins: [backdrop],
      data: {
        datasets: [
          {
            label: "Axe",
            data: [{ x: 0, y: axisLineValue }, { x: 26, y: axisLineValue }],
            showLine: true,
            borderColor: "#bfbfbf",
            borderWidth: 2,
            pointRadius: 0,
            order: 4,
          },
          {
            label: "Rendement_A04",
            data: [...toPoints(rendementA04), ...toPoints(rendementA04Cloud)],
            pointStyle: "cross",
            pointRadius: 5,
            pointBorderWidth: 1.4,
            borderColor: "#FFC000",
            backgroundColor: "#FFC000",
            order: 3,
          },
          {
            label: "Rendement_A07",
            data: [...toPoints(rendementA07), ...toPoints(rendementA07Cloud)],
            pointStyle: "cross",
            pointRadius: 4.5,
            pointBorderWidth: 2.4,
            borderColor: "#0070C0",
            backgroundColor: "#0070C0",
            order: 2,
          },
          {
            label: "Rendement_A10",
            data: [...toPoints(rendementA10), ...toPoints(rendementA10Cloud), ...rendementA10ZeroDates.map((x) => ({ x, y: 0 }))],
            pointStyle: "cross",
            pointRadius: 4.5,
            pointBorderWidth: 2.4,
            borderColor: "#FF0000",
            backgroundColor: "#FF0000",
            order: 1,
          },
        ] as any,
      },
      options: {
        responsive: false,
        animation: false,
        devicePixelRatio: 1,
        events: [],
        layout: { padding: { left: 0, top: 97, right: 71, bottom: 0 } },
        plugins: {
          title: { display: false },
          tooltip: { enabled: false },
          legend: {
            position: "chartArea" as any,
            align: "start",
            labels: {
              usePointStyle: true,
              boxWidth: 7,
              boxHeight: 7,
              padding: 53,
              color: "#595959",
              font: { family: FONT, size: 27, weight: "bold" },
              filter: (item: any) => item.text !== "Axe",
              sort: (a: any, b: any) => a.text.localeCompare(b.text),
            },
          },
        },
        scales: {
          x: {
            type: "linear",
            min: 0,
            max: 26,
            afterFit: (s: any) => { s.height = 62.3; },
            afterBuildTicks: (s: any) => {
              s.ticks = s.ticks.filter((t: any) => t.value % 2 === 0);
            },
            ticks: {
              stepSize: 2,
              maxRotation: 0,
              autoSkip: false,
              padding: 23,
              color: "#595959",
              font: { family: FONT, size: 18.5 },
              callback: (v: any) => (v >= 26 ? "" : `01/01/${firstYear + v}`),
            },
            grid: {
              drawTicks: false,
              color: (c: any) => (c.tick && c.tick.value >= 26 ? "rgba(0,0,0,0)" : "#d9d9d9"),
              lineWidth: 1.4,
            },
            border: { color: "#d9d9d9", width: 2 },
          },
          y: {
            min: -100,
            max: 400,
            afterFit: (s: any) => { s.width = 92.5; },
            ticks: {
              stepSize: 50,
              padding: 19,
              color: "#595959",
              font: { family: FONT, size: 18.5 },
              callback: (v: any) => (v < 0 ? `- ${-v}%` : `${v}%`),
            },
            grid: { drawTicks: false, color: "#d9d9d9", lineWidth: 2 },
            border: { color: "#d9d9d9", width: 1.4 },
          },
        },
      },
    } as any);
    return () => chart.destroy();
  }, []);

  return (
    <div style={{ position: "fixed", left: 0, top: 0, width: 2086, height: 1032, overflow: "hidden", background: "#fff" }}>
      <canvas ref={canvasRef} width={2086} height={1032} style={{ position: "absolute", left: 0, top: 0, width: 2086, height: 1032 }} />
      <div style={box(0, 0, 2086, 52, "#7FCA80")} />
      <div style={box(0, 0, 2086, 1, "#6f9f72")} />
      <div style={box(0, 55, 2081, 2, "#d9d9d9")} />
      <div style={box(0, 55, 1, 977, "#d9d9d9")} />
      <div style={box(2080, 55, 1.5, 970, "#d9d9d9")} />
      <div style={box(0, 1021, 2081, 2, "#d9d9d9")} />
      <div style={box(0, 1031, 2086, 1, "#7f7f7f")} />
      <div style={box(1, 51, 21, 4, "#FFC000")} />
      <div style={box(2063, 51, 23, 4, "#FFC000")} />
      <div style={box(2081, 51, 5, 18, "#FFC000")} />
      <div style={box(1, 1023, 21, 7, "#FFC000")} />
      <div style={box(2063, 1023, 20, 7, "#FFC000")} />
      <div style={box(2081, 966, 5, 64, "#FFC000")} />
      <FitText text={headerText} left={33} centerY={27} width={1948} fontSize={34} color="#000" />
      <FitText text={subtitleLine1} left={554} centerY={100} width={971} fontSize={30} color="#595959" />
      <FitText text={subtitleLine2} left={422.5} centerY={142} width={1233.5} fontSize={30} color="#595959" />
    </div>
  );
}
